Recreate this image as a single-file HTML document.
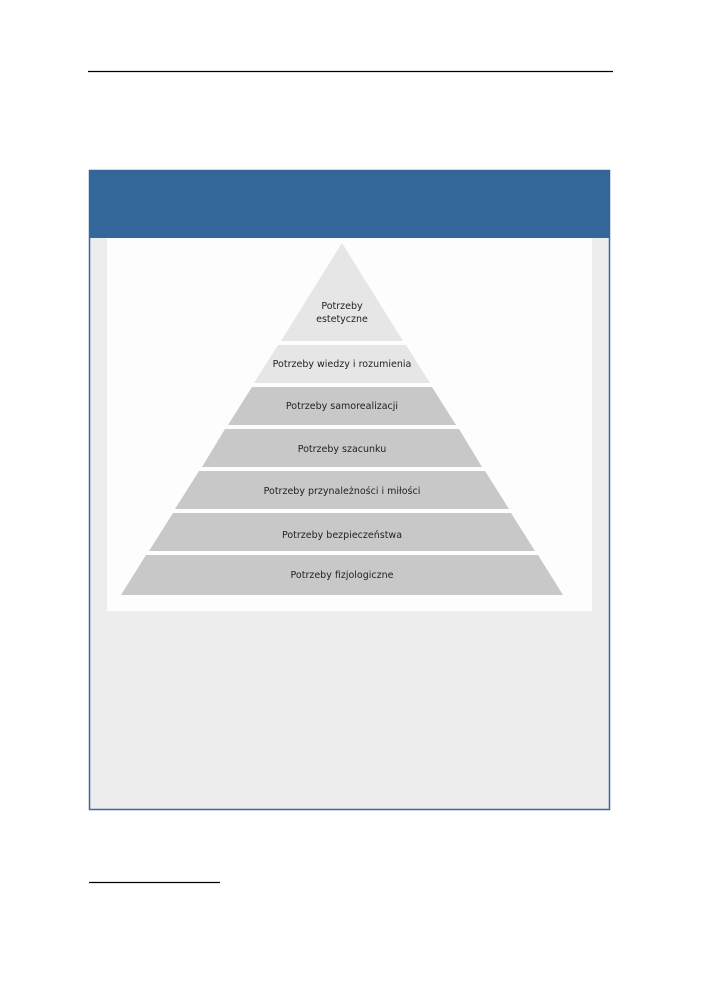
<!DOCTYPE html>
<html><head><meta charset="utf-8"><style>
html,body{margin:0;padding:0;background:#fff;}
svg{display:block;}
text{font-family:"DejaVu Sans","Liberation Sans",sans-serif;font-size:9.5px;fill:#222;text-anchor:middle;}
</style></head><body>
<svg width="702" height="999" viewBox="0 0 702 999" xmlns="http://www.w3.org/2000/svg">
<rect width="702" height="999" fill="#fff"/>
<line x1="88" y1="71.5" x2="613" y2="71.5" stroke="#000" stroke-width="1.3"/>
<rect x="89.5" y="170.5" width="520" height="639" fill="#ededed" stroke="#3a68a0" stroke-width="1.5"/>
<rect x="89" y="170" width="521" height="68" fill="#336699"/>
<rect x="107" y="238" width="485" height="373" fill="#fdfdfd"/>
<polygon points="342,243 403,341 281,341" fill="#e6e6e6"/>
<polygon points="278,345 406,345 430,383 254,383" fill="#e6e6e6"/>
<polygon points="252,387 432,387 456,425 228,425" fill="#c8c8c8"/>
<polygon points="225,429 459,429 482,467 202,467" fill="#c8c8c8"/>
<polygon points="199,471 485,471 509,509 175,509" fill="#c8c8c8"/>
<polygon points="173,513 511,513 535,551 149,551" fill="#c8c8c8"/>
<polygon points="146,555 538,555 563,595 121,595" fill="#c8c8c8"/>
<text x="342" y="309">Potrzeby</text>
<text x="342" y="322">estetyczne</text>
<text x="342" y="367">Potrzeby wiedzy i rozumienia</text>
<text x="342" y="409">Potrzeby samorealizacji</text>
<text x="342" y="452">Potrzeby szacunku</text>
<text x="342" y="494">Potrzeby przynależności i miłości</text>
<text x="342" y="538">Potrzeby bezpieczeństwa</text>
<text x="342" y="578">Potrzeby fizjologiczne</text>
<line x1="89" y1="882.5" x2="220" y2="882.5" stroke="#000" stroke-width="1.2"/>
</svg>
</body></html>
